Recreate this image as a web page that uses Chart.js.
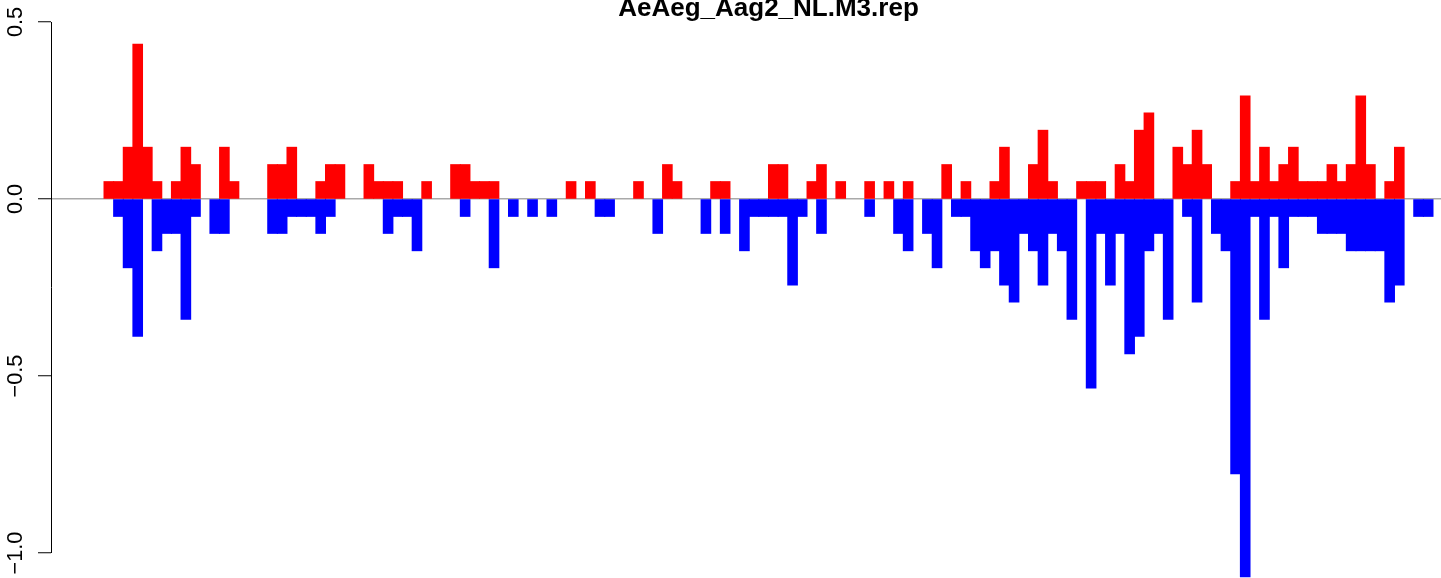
<!DOCTYPE html>
<html>
<head>
<meta charset="utf-8">
<script src="https://cdn.jsdelivr.net/npm/chart.js@4.4.1/dist/chart.umd.min.js"></script>
<style>
html,body{margin:0;padding:0;background:#fff;overflow:hidden;}
#c{display:block;position:absolute;left:0;top:0;}
</style>
</head>
<body>
<canvas id="c" width="1441" height="578"></canvas>
<script>
// ---- data ----
const TITLE = "AeAeg_Aag2_NL.M3.rep";
const yTickValues = [-1.0, -0.5, 0.0, 0.5];
const yTickLabels = ["\u22121.0", "\u22120.5", "0.0", "0.5"];

const upValues = [
  0.049,0.049,0.146,0.437,0.146,0.049,0,0.049,0.146,0.097,
  0,0,0.146,0.049,0,0,0,0.097,0.097,0.146,
  0,0,0.049,0.097,0.097,0,0,0.097,0.049,0.049,
  0.049,0,0,0.049,0,0,0.097,0.097,0.049,0.049,
  0.049,0,0,0,0,0,0,0,0.049,0,
  0.049,0,0,0,0,0.049,0,0,0.097,0.049,
  0,0,0,0.049,0.049,0,0,0,0,0.097,
  0.097,0,0,0.049,0.097,0,0.049,0,0,0.049,
  0,0.049,0,0.049,0,0,0,0.097,0,0.049,
  0,0,0.049,0.146,0,0,0.097,0.194,0.049,0,
  0,0.049,0.049,0.049,0,0.097,0.049,0.194,0.243,0,
  0,0.146,0.097,0.194,0.097,0,0,0.049,0.291,0.049,
  0.146,0.049,0.097,0.146,0.049,0.049,0.049,0.097,0.049,0.097,
  0.291,0.097,0,0.049,0.146,0,0,0
];

const downValues = [
  0,-0.049,-0.194,-0.388,0,-0.146,-0.097,-0.097,-0.340,-0.049,
  0,-0.097,-0.097,0,0,0,0,-0.097,-0.097,-0.049,
  -0.049,-0.049,-0.097,-0.049,0,0,0,0,0,-0.097,
  -0.049,-0.049,-0.146,0,0,0,0,-0.049,0,0,
  -0.194,0,-0.049,0,-0.049,0,-0.049,0,0,0,
  0,-0.049,-0.049,0,0,0,0,-0.097,0,0,
  0,0,-0.097,0,-0.097,0,-0.146,-0.049,-0.049,-0.049,
  -0.049,-0.243,-0.049,0,-0.097,0,0,0,0,-0.049,
  0,0,-0.097,-0.146,0,-0.097,-0.194,0,-0.049,-0.049,
  -0.146,-0.194,-0.146,-0.243,-0.291,-0.097,-0.146,-0.243,-0.097,-0.146,
  -0.340,0,-0.534,-0.097,-0.243,-0.097,-0.437,-0.388,-0.146,-0.097,
  -0.340,0,-0.049,-0.291,0,-0.097,-0.146,-0.776,-1.067,-0.049,
  -0.340,-0.049,-0.194,-0.049,-0.049,-0.049,-0.097,-0.097,-0.097,-0.146,
  -0.146,-0.146,-0.146,-0.291,-0.243,0,-0.049,-0.049
];

// bin positions (1..N)
const bins = upValues.map((_, i) => i + 1);

// ---- layout (pixels) ----
const W = 1441, H = 578;
const AXIS_X = 51;          // y axis line (left edge of plot region)
const TICK_LEN = 13;
const LABEL_CX = 16;        // centre of rotated tick labels
const BARS_LEFT = 104, BARS_RIGHT = 1433;
const PX_TOP_TICK = 22, PX_BOTTOM_TICK = 553; // pixel of 0.5 and -1.0
const TICK_FONT_SIZE = 21.7, TITLE_FONT_SIZE = 26;
const FONT = '"Liberation Sans", Arial, Helvetica, sans-serif';

const nBins = bins.length;
const ppuX = (BARS_RIGHT - BARS_LEFT) / nBins;
const xMin = (bins[0] - 0.5) - (BARS_LEFT - AXIS_X) / ppuX;
const xMax = (bins[nBins - 1] + 0.5) + (W - BARS_RIGHT) / ppuX;
const ppuY = (PX_BOTTOM_TICK - PX_TOP_TICK) / (yTickValues[3] - yTickValues[0]);
const yMax = yTickValues[3] + PX_TOP_TICK / ppuY;
const yMin = yTickValues[0] - (H - PX_BOTTOM_TICK) / ppuY;

// measure widest label to centre rotated labels at LABEL_CX
const mctx = document.createElement('canvas').getContext('2d');
mctx.font = TICK_FONT_SIZE + 'px ' + FONT;
const widest = Math.max(...yTickLabels.map(t => mctx.measureText(t).width));
const tickPad = AXIS_X - TICK_LEN - LABEL_CX - widest / 2;

const rAxisPlugin = {
  id: 'rAxis',
  afterDraw(chart) {
    const ctx = chart.ctx, ys = chart.scales.y, xs = chart.scales.x;
    ctx.save();
    ctx.strokeStyle = '#000';
    ctx.lineWidth = 1;
    const x = Math.round(chart.chartArea.left) + 0.5;
    ctx.beginPath();
    ctx.moveTo(x, ys.getPixelForValue(yTickValues[0]));
    ctx.lineTo(x, ys.getPixelForValue(yTickValues[yTickValues.length - 1]));
    ctx.stroke();
    // title
    const cx = (xs.getPixelForValue(bins[0] - 0.5) + xs.getPixelForValue(bins[nBins - 1] + 0.5)) / 2;
    ctx.fillStyle = '#000';
    ctx.font = 'bold ' + TITLE_FONT_SIZE + 'px ' + FONT;
    ctx.textAlign = 'center';
    ctx.textBaseline = 'alphabetic';
    ctx.fillText(TITLE, cx, 16);
    ctx.restore();
  }
};

const toPoints = arr => arr.map((v, i) => ({ x: bins[i], y: v === 0 ? null : v }));

Chart.defaults.font.family = FONT;

new Chart(document.getElementById('c'), {
  type: 'bar',
  data: {
    datasets: [
      { label: 'up', data: toPoints(upValues), backgroundColor: '#ff0000', borderWidth: 0,
        grouped: false, barPercentage: 1, categoryPercentage: 1, inflateAmount: 0.5 },
      { label: 'down', data: toPoints(downValues), backgroundColor: '#0000ff', borderWidth: 0,
        grouped: false, barPercentage: 1, categoryPercentage: 1, inflateAmount: 0.5 }
    ]
  },
  options: {
    responsive: false,
    animation: false,
    devicePixelRatio: 1,
    layout: { padding: 0 },
    plugins: { legend: { display: false }, title: { display: false }, tooltip: { enabled: false } },
    scales: {
      x: {
        type: 'linear', min: xMin, max: xMax, display: false, offset: false,
        afterFit(s) { s.height = 0; s.paddingLeft = 0; s.paddingRight = 0; }
      },
      y: {
        type: 'linear', min: yMin, max: yMax,
        afterBuildTicks(s) { s.ticks = yTickValues.map(v => ({ value: v })); },
        afterFit(s) { s.width = AXIS_X; s.paddingTop = 0; s.paddingBottom = 0; },
        border: { display: false },
        grid: {
          drawTicks: true, tickLength: TICK_LEN, tickColor: '#000', tickWidth: 1,
          lineWidth: 1.5,
          color: c => (c.tick && c.tick.value === 0) ? '#a9a9a9' : 'rgba(0,0,0,0)'
        },
        ticks: {
          minRotation: 90, maxRotation: 90, crossAlign: 'center', padding: tickPad,
          color: '#000', font: { size: TICK_FONT_SIZE },
          callback: v => { const k = yTickValues.indexOf(v); return k >= 0 ? yTickLabels[k] : ''; }
        }
      }
    }
  },
  plugins: [rAxisPlugin]
});
</script>
</body>
</html>
